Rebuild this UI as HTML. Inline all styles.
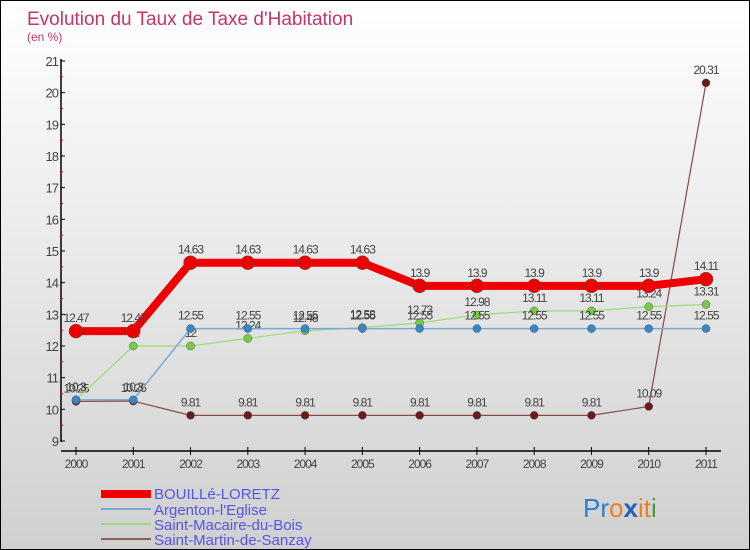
<!DOCTYPE html>
<html><head><meta charset="utf-8"><style>
body{margin:0}
#c{width:750px;height:550px;position:relative;background:linear-gradient(#ffffff,#d0d0d0);border:1px solid #000;box-sizing:border-box;overflow:hidden;font-family:"Liberation Sans",sans-serif}
</style></head><body>
<div id="c">
<svg id="s" width="750" height="550" style="position:absolute;left:0;top:0">
<text x="26" y="24" font-size="19" fill="#c8336a">Evolution du Taux de Taxe d'Habitation</text>
<text x="26" y="40" font-size="12" fill="#c8336a">(en %)</text>
<g id="axes"></g><g id="marks"></g>
<g>
<rect x="100" y="489" width="50" height="8" fill="#e00"/>
<text x="153" y="498" font-size="15" fill="#5555ee">BOUILLé-LORETZ</text>
<rect x="100" y="507" width="50" height="2" fill="#7aa8d0"/>
<text x="153" y="514" font-size="15" fill="#5555ee">Argenton-l'Eglise</text>
<rect x="100" y="522" width="50" height="2" fill="#99dd77"/>
<text x="153" y="529" font-size="15" fill="#5555ee">Saint-Macaire-du-Bois</text>
<rect x="100" y="537" width="50" height="2" fill="#8b6060"/>
<text x="153" y="544" font-size="15" fill="#5555ee">Saint-Martin-de-Sanzay</text>
</g>
<text x="582" y="516" font-size="26"><tspan fill="#2a7fd0">Pr</tspan><tspan fill="#f08020">o</tspan><tspan fill="#2060c0" font-weight="bold">x</tspan><tspan fill="#f08020">it</tspan><tspan fill="#40a040">i</tspan></text>
</svg>
</div>
<script>
const years=[2000,2001,2002,2003,2004,2005,2006,2007,2008,2009,2010,2011];
const yTicks=[9,10,11,12,13,14,15,16,17,18,19,20,21];
const bouille=[12.47,12.47,14.63,14.63,14.63,14.63,13.9,13.9,13.9,13.9,13.9,14.11];
const argenton=[10.3,10.3,12.55,12.55,12.55,12.55,12.55,12.55,12.55,12.55,12.55,12.55];
const macaire=[10.3,12,12,12.24,12.48,12.58,12.73,12.98,13.11,13.11,13.24,13.31];
const martin=[10.25,10.26,9.81,9.81,9.81,9.81,9.81,9.81,9.81,9.81,10.09,20.31];
const NS='http://www.w3.org/2000/svg';
const X=i=>75+i*(630/(years.length-1));
const Y=v=>440-(v-9)*(380/12);
function mk(t,a,p){const e=document.createElementNS(NS,t);for(const k in a)e.setAttribute(k,a[k]);p.appendChild(e);return e;}
const ax=document.getElementById('axes'),mg=document.getElementById('marks');
let l=mk('line',{x1:60,y1:58,x2:60,y2:441,stroke:'#000','stroke-width':1.5},ax);


l=mk('line',{x1:60,y1:450,x2:720,y2:450,stroke:'#000','stroke-width':1.5},ax);


yTicks.forEach((v,i)=>{
 mk('line',{x1:60,y1:Y(v),x2:64,y2:Y(v),stroke:'#000'},ax);
 if(i<yTicks.length-1)mk('line',{x1:59,y1:Y(v+0.5),x2:62,y2:Y(v+0.5),stroke:'#e00'},ax);
 const t=mk('text',{x:57,y:Y(v)+5,'font-size':13,fill:'#444','text-anchor':'end','letter-spacing':'-1'},ax);
 t.textContent=v;
 
 
});
years.forEach((yr,i)=>{
 mk('line',{x1:X(i),y1:446,x2:X(i),y2:454,stroke:'#000'},ax);
 const t=mk('text',{x:X(i),y:467,'font-size':12,fill:'#444','text-anchor':'middle','letter-spacing':'-1'},ax);
 t.textContent=yr;
 
 
});
function series(vals,col,w,r,name,dot){
 const g=mk('g',{},mg);
 
 
 const p=mk('polyline',{points:vals.map((v,i)=>X(i)+','+Y(v)).join(' '),fill:'none',stroke:col,'stroke-width':w},g);
 
 
 vals.forEach((v,i)=>{
  const c=mk('circle',{cx:X(i),cy:Y(v),r:r,fill:dot,stroke:'#555','stroke-width':0.5},g);
  
  
  const t=mk('text',{x:X(i),y:Y(v)-9,'font-size':12,fill:'#444','text-anchor':'middle','letter-spacing':'-1'},g);
  t.textContent=v;
  
  
 });
}
series(martin,'#8b4848',1.2,4,'martin','#6a1a1a');
series(macaire,'#99dd77',1.2,4,'macaire','#77cc44');
series(argenton,'#7aa8d0',1.5,4,'argenton','#3388cc');
series(bouille,'#ee0000',8,7,'bouille','#ee0000');
</script>
</body></html>
